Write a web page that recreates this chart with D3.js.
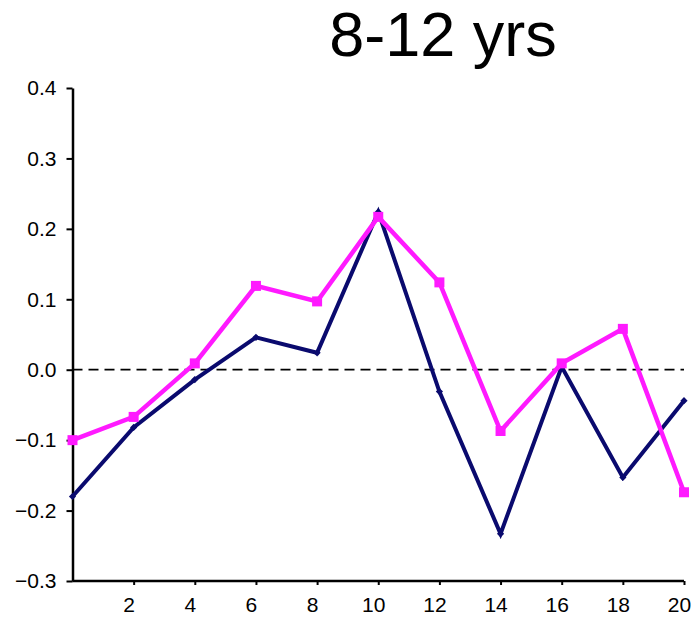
<!DOCTYPE html>
<html>
<head>
<meta charset="utf-8">
<script src="https://cdn.jsdelivr.net/npm/d3@7"></script>
<style>
  body { margin: 0; background: #fff; }
  svg { display: block; font-family: "Liberation Sans", Arial, sans-serif; }
</style>
</head>
<body>
<div id="chart"></div>
<script>
// data
const ages = [0, 2, 4, 6, 8, 10, 12, 14, 16, 18, 20];
const pinkSeries = [-0.100, -0.067, 0.009, 0.119, 0.097, 0.217, 0.124, -0.087, 0.009, 0.058, -0.174];
const navySeries = [-0.180, -0.082, -0.014, 0.046, 0.024, 0.224, -0.031, -0.233, 0.004, -0.153, -0.044];
const yTicks = [-0.3, -0.2, -0.1, 0.0, 0.1, 0.2, 0.3, 0.4];
const xTicks = [2, 4, 6, 8, 10, 12, 14, 16, 18, 20];
const title = "8-12 yrs";

const W = 697, H = 619;
const margin = { top: 88, right: 13, bottom: 38, left: 72.5 };
const width = W - margin.left - margin.right;
const height = H - margin.top - margin.bottom;

const svg = d3.select("#chart").append("svg")
  .attr("width", W)
  .attr("height", H);

svg.append("text")
  .attr("x", 443)
  .attr("y", 56)
  .attr("text-anchor", "middle")
  .style("font-size", "63px")
  .attr("fill", "#000")
  .text(title);

const g = svg.append("g")
  .attr("transform", `translate(${margin.left},${margin.top})`);

const x = d3.scaleLinear().domain([0, 20]).range([0, 611.5]);
const y = d3.scaleLinear().domain([-0.3, 0.4]).range([height, 0]);

// zero line
g.append("line")
  .attr("x1", 0).attr("x2", width)
  .attr("y1", y(0)).attr("y2", y(0))
  .attr("stroke", "#000")
  .attr("stroke-width", 1.8)
  .attr("stroke-dasharray", "10,6");

// y axis
const yAxis = g.append("g")
  .call(d3.axisLeft(y).tickValues(yTicks).tickFormat(d3.format(".1f")).tickSize(6).tickSizeOuter(0));
yAxis.select(".domain").attr("stroke-width", 2.5);
yAxis.selectAll(".tick line").attr("stroke-width", 2);
yAxis.selectAll(".tick text")
  .style("font-size", "21px")
  .style("font-family", "Liberation Sans, Arial, sans-serif")
  .attr("x", -16);

// x axis
const xAxis = g.append("g")
  .attr("transform", `translate(0,${height})`)
  .call(d3.axisBottom(x).tickValues(xTicks).tickFormat(d3.format("d")).tickSize(4).tickSizeOuter(0));
xAxis.select(".domain").attr("d", `M0,0H${width}`).attr("stroke-width", 2.5);
xAxis.selectAll(".tick line").attr("stroke-width", 2);
xAxis.selectAll(".tick text")
  .style("font-size", "21px")
  .style("font-family", "Liberation Sans, Arial, sans-serif")
  .attr("dx", -5)
  .attr("y", 16);

const line = d3.line()
  .x((d, i) => x(ages[i]))
  .y(d => y(d));

// navy series
g.append("path")
  .datum(navySeries)
  .attr("fill", "none")
  .attr("stroke", "#0a0a6e")
  .attr("stroke-width", 4)
  .attr("stroke-linejoin", "miter")
  .attr("d", line);

g.selectAll(".navy-pt")
  .data(navySeries)
  .join("path")
  .attr("class", "navy-pt")
  .attr("transform", (d, i) => `translate(${x(ages[i])},${y(d)}) rotate(45)`)
  .attr("d", d3.symbol(d3.symbolSquare, 26))
  .attr("fill", "#0a0a6e");

// pink series
g.append("path")
  .datum(pinkSeries)
  .attr("fill", "none")
  .attr("stroke", "#ff1aff")
  .attr("stroke-width", 4.5)
  .attr("d", line);

g.selectAll(".pink-pt")
  .data(pinkSeries)
  .join("rect")
  .attr("class", "pink-pt")
  .attr("x", (d, i) => x(ages[i]) - 5)
  .attr("y", d => y(d) - 5)
  .attr("width", 10)
  .attr("height", 10)
  .attr("fill", "#ff1aff");
</script>
</body>
</html>
